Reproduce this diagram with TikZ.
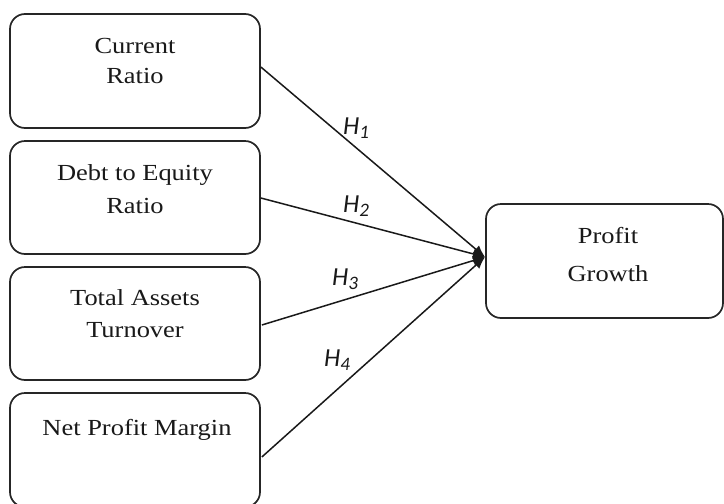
\documentclass[tikz,border=0pt]{standalone}
\usepackage{fontspec}
\setmainfont{Liberation Serif}
\newfontfamily\boxfont[FakeStretch=1.15]{Liberation Serif}
\newfontfamily\hfont{Carlito}
\usetikzlibrary{arrows.meta,calc}
\tikzset{
  box/.style={draw=black!85, line width=1.7pt, rounded corners=15pt, fill=white, inner sep=0pt},
  txt/.style={font=\boxfont\fontsize{23}{31}\selectfont, anchor=base, inner sep=0pt, text=black!90},
  hyp/.style={font=\hfont\itshape\fontsize{26}{30}\selectfont, anchor=base west, inner sep=0pt, text=black!90},
  conn/.style={line width=1.5pt, draw=black!90, -{Latex[length=12pt,width=10pt]}}
}
\newcommand{\hsub}[1]{H\raisebox{-4pt}{\fontsize{19}{22}\selectfont #1}}
\begin{document}
\begin{tikzpicture}[x=1pt,y=-1pt]
\useasboundingbox (0,0) rectangle (724,504);
\node[box, minimum width=250pt, minimum height=114pt] (cr) at (135,71) {};
\node[box, minimum width=250pt, minimum height=113pt] (der) at (135,197.5) {};
\node[box, minimum width=250pt, minimum height=113pt] (tat) at (135,323.5) {};
\node[box, minimum width=250pt, minimum height=114pt] (npm) at (135,450) {};
\node[box, minimum width=237pt, minimum height=114pt] (pg) at (604.5,261) {};

\node[txt] (cr1) at (135,53) {Current};
\node[txt] (cr2) at (135,83) {Ratio};
\node[txt] (der1) at (135,180) {Debt to Equity};
\node[txt] (der2) at (135,213) {Ratio};
\node[txt] (tat1) at (135,305) {Total Assets};
\node[txt] (tat2) at (135,337) {Turnover};
\node[txt] (npm1) at (137,435) {Net Profit Margin};
\node[txt] (pg1) at (608,243) {Profit};
\node[txt] (pg2) at (608,281) {Growth};

\coordinate (tip) at (485,257);
\draw[conn] ($(cr.east)+(0,-4)$) -- (tip);
\draw[conn] ($(der.east)+(0,0.5)$) -- (tip);
\draw[conn] ($(tat.east)+(1,1.5)$) -- (tip);
\draw[conn] ($(npm.east)+(1,7)$) -- (tip);

\node[hyp] (h1) at (343,134) {\hsub{1}};
\node[hyp] (h2) at (343,212) {\hsub{2}};
\node[hyp] (h3) at (332,285) {\hsub{3}};
\node[hyp] (h4) at (324,366) {\hsub{4}};
\end{tikzpicture}
\end{document}
